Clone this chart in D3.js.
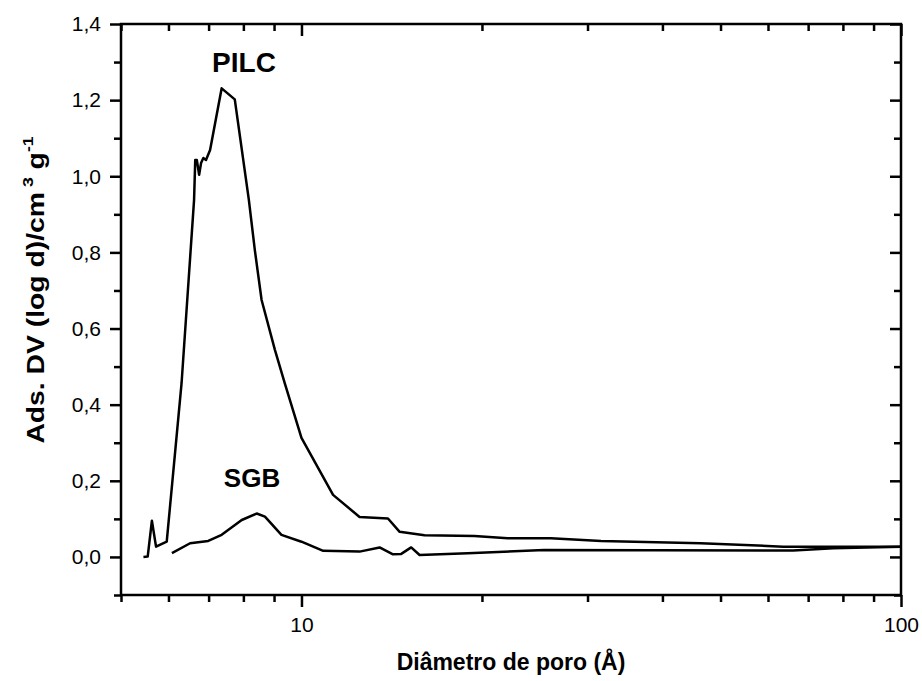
<!DOCTYPE html>
<html>
<head>
<meta charset="utf-8">
<script src="https://cdn.jsdelivr.net/npm/d3@7"></script>
<style>
  body { margin: 0; background: #fff; }
  svg text { font-family: "Liberation Sans", Arial, Helvetica, sans-serif; fill: #000; }
</style>
</head>
<body>
<svg id="chart" width="922" height="681"></svg>
<script>
// pore diameter (A) and adsorbed volume for each sample
const pilcX = [5.45, 5.54, 5.63, 5.72, 5.96, 6.16, 6.31, 6.62, 6.65, 6.69, 6.75, 6.80, 6.86, 6.93, 7.04,
  7.36, 7.74, 8.17, 8.36, 8.58, 9.03, 9.38, 10.0, 11.29, 12.5, 13.94, 14.58, 16.04, 19.43, 22.08,
  26.06, 31.6, 46.3, 63.6, 100];
const pilcY = [0.0, 0.001, 0.095, 0.027, 0.040, 0.281, 0.457, 0.938, 1.043, 1.043, 1.004, 1.035, 1.048, 1.043, 1.069,
  1.231, 1.202, 0.938, 0.806, 0.675, 0.544, 0.456, 0.313, 0.163, 0.105, 0.101, 0.066, 0.057, 0.055, 0.049,
  0.049, 0.042, 0.036, 0.027, 0.027];

const sgbX = [6.08, 6.52, 6.99, 7.36, 7.95, 8.42, 8.69, 9.26, 10.0, 10.87, 12.5, 13.5, 14.21, 14.67, 15.24,
  15.74, 18.94, 25.4, 66.1, 77.1, 100];
const sgbY = [0.010, 0.036, 0.042, 0.058, 0.097, 0.114, 0.106, 0.058, 0.040, 0.016, 0.014, 0.025, 0.007, 0.008, 0.025,
  0.005, 0.010, 0.018, 0.017, 0.023, 0.027];

const yMajor = [0, 0.2, 0.4, 0.6, 0.8, 1.0, 1.2, 1.4];
const yMinor = [-0.1, 0.1, 0.3, 0.5, 0.7, 0.9, 1.1, 1.3];
const xMajor = [10, 100];
const xMinor = [5, 6, 7, 8, 9, 20, 30, 40, 50, 60, 70, 80, 90];

const plot = { left: 121, right: 901, top: 24, bottom: 595 };

const svg = d3.select("#chart");

const x = d3.scaleLog().domain([5, 100]).range([plot.left, plot.right]);
const y = d3.scaleLinear().domain([-0.1, 1.4]).range([plot.bottom, plot.top]);

const fmt = (d) => d3.format(".1f")(d).replace(".", ",");

// frame
svg.append("rect")
  .attr("x", plot.left).attr("y", plot.top)
  .attr("width", plot.right - plot.left).attr("height", plot.bottom - plot.top)
  .attr("fill", "none").attr("stroke", "#000").attr("stroke-width", 2.5);

const noDomain = (g) => g.select(".domain").remove();

// bottom axis (ticks out)
svg.append("g")
  .attr("transform", `translate(0,${plot.bottom})`)
  .call(d3.axisBottom(x).tickValues(xMajor).tickSize(12).tickPadding(10).tickFormat(d3.format("d")))
  .call(noDomain);
svg.append("g")
  .attr("transform", `translate(0,${plot.bottom})`)
  .call(d3.axisBottom(x).tickValues(xMinor).tickSize(7).tickFormat(""))
  .call(noDomain);

// top axis (ticks in)
svg.append("g")
  .attr("transform", `translate(0,${plot.top})`)
  .call(d3.axisBottom(x).tickValues(xMajor).tickSize(12).tickFormat(""))
  .call(noDomain);
svg.append("g")
  .attr("transform", `translate(0,${plot.top})`)
  .call(d3.axisBottom(x).tickValues(xMinor).tickSize(7).tickFormat(""))
  .call(noDomain);

// left axis (ticks out)
svg.append("g")
  .attr("transform", `translate(${plot.left},0)`)
  .call(d3.axisLeft(y).tickValues(yMajor).tickSize(11).tickPadding(9).tickFormat(fmt))
  .call(noDomain);
svg.append("g")
  .attr("transform", `translate(${plot.left},0)`)
  .call(d3.axisLeft(y).tickValues(yMinor).tickSize(7).tickFormat(""))
  .call(noDomain);

// right axis (ticks in)
svg.append("g")
  .attr("transform", `translate(${plot.right},0)`)
  .call(d3.axisLeft(y).tickValues(yMajor).tickSize(11).tickFormat(""))
  .call(noDomain);
svg.append("g")
  .attr("transform", `translate(${plot.right},0)`)
  .call(d3.axisLeft(y).tickValues(yMinor).tickSize(7).tickFormat(""))
  .call(noDomain);

svg.selectAll(".tick line").attr("stroke", "#000").attr("stroke-width", 2.5);
svg.selectAll(".tick text").attr("font-size", 21).attr("font-family", "Liberation Sans, Arial, sans-serif");

// curves
const line = d3.line().x((d) => x(d[0])).y((d) => y(d[1]));
const series = [d3.zip(pilcX, pilcY), d3.zip(sgbX, sgbY)];
svg.selectAll("path.curve")
  .data(series)
  .enter()
  .append("path")
  .attr("class", "curve")
  .attr("d", line)
  .attr("fill", "none")
  .attr("stroke", "#000")
  .attr("stroke-width", 2.5)
  .attr("stroke-linejoin", "round");

// labels
svg.append("text").attr("x", 244).attr("y", 72).attr("text-anchor", "middle")
  .attr("font-size", 28).attr("font-weight", "bold").text("PILC");
svg.append("text").attr("x", 252).attr("y", 487).attr("text-anchor", "middle")
  .attr("font-size", 26).attr("font-weight", "bold").text("SGB");

svg.append("text").attr("x", 511).attr("y", 670).attr("text-anchor", "middle")
  .attr("font-size", 23).attr("font-weight", "bold").text("Diâmetro de poro (Å)");

const yt = svg.append("text")
  .attr("transform", "translate(44,290) rotate(-90) scale(1.18,1)")
  .attr("text-anchor", "middle")
  .attr("font-size", 24).attr("font-weight", "bold");
yt.append("tspan").text("Ads. DV (log d)/cm");
yt.append("tspan").attr("dy", -11).attr("font-size", 15).text(" 3");
yt.append("tspan").attr("dy", 11).text(" g");
yt.append("tspan").attr("dy", -11).attr("font-size", 15).text("-1");
</script>
</body>
</html>
